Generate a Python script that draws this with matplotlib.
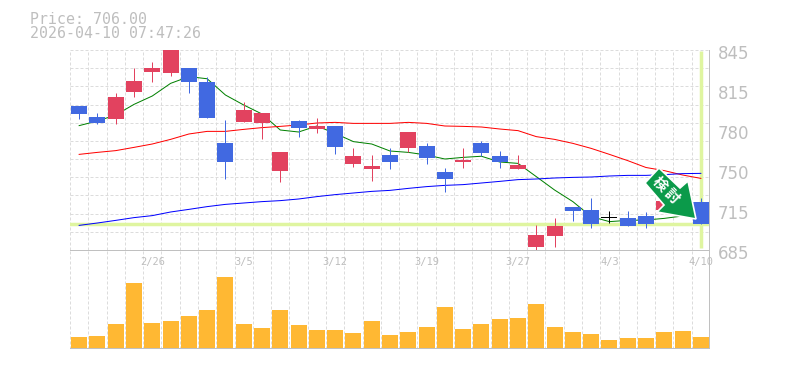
import matplotlib
matplotlib.use('Agg')
import matplotlib.pyplot as plt
from matplotlib.patches import Polygon
from matplotlib.ticker import FixedLocator, NullFormatter

# candles, oldest first
opens = [800.2, 791.4, 789.8, 811.4, 827.4, 826.6, 830.6, 819.4, 770.6, 787.4, 786.6, 748.2, 788.2, 781.8, 784.2, 753.8, 749.8, 761, 766.6, 768.2, 747.4, 755.4, 770.6, 760.2, 749.8, 687.4, 696.2, 719.4, 717, 710.3, 710.6, 712.2, 717, 725, 723.4]
closes = [793.8, 786.6, 807.4, 820.2, 830.6, 846, 819.4, 790.6, 755.4, 797, 794.6, 763.4, 782.6, 784.2, 767.4, 760.2, 752.2, 755.4, 779.4, 758.6, 741.8, 757, 762.6, 755.4, 753, 697, 704.2, 716.2, 705.8, 710.6, 704.2, 705.8, 724.2, 715.7, 706]
highs = [800.2, 794.6, 810.6, 830.6, 835.4, 846, 830.6, 823.4, 789, 803.4, 794.6, 763.4, 789, 790.6, 784.2, 766.6, 761, 766.6, 779.4, 770.6, 750.6, 766.6, 772.2, 764.2, 761, 705, 710.6, 719.4, 726.6, 716.2, 716.2, 715.4, 727.6, 727.6, 726.6]
lows = [789.8, 785.8, 785.8, 807.4, 819.4, 824.2, 810.6, 790.6, 741.8, 787.4, 773.8, 739.4, 775.4, 778.6, 761.8, 751.4, 740.2, 749.8, 763.4, 753.8, 731.4, 750.6, 759.9, 750.6, 749.8, 684.2, 687.4, 708.2, 702.6, 706.6, 704.2, 702.6, 714.4, 714.4, 706]

ma_short = [784.5, 788.2, 793, 801.5, 808.2, 818.3, 823.7, 822, 809, 801, 793.8, 781, 779.4, 784.2, 778.3, 771.7, 769.8, 764.2, 763.1, 761, 757.8, 759.1, 760, 755.4, 754.3, 743.7, 733, 723.7, 711.7, 707.7, 708.7, 709, 710.3, 712.2, 713]
ma_mid = [761.5, 763.1, 764.5, 767.1, 769.8, 773.5, 777.8, 779.9, 779.9, 781.5, 782.9, 783.9, 785, 786.6, 787.1, 786.3, 786.3, 786.3, 787.1, 786.3, 784.2, 783.9, 783.4, 781.8, 780.5, 775.7, 773.5, 770.3, 766.3, 761.5, 756.5, 751, 748.5, 745, 742.3]
ma_long = [704.7, 706.6, 708.7, 710.9, 712.5, 715.4, 717.5, 719.7, 721.5, 722.6, 723.7, 724.5, 725.8, 727.7, 729.3, 730.6, 731.9, 732.7, 734.3, 735.7, 736.7, 737.3, 738.6, 739.9, 741.3, 741.8, 742.6, 743.1, 743.4, 744.2, 744.7, 744.7, 745.3, 746.1, 746.3]

volumes = [10.7, 11.7, 23.7, 64.7, 24.7, 26.7, 31.7, 37.7, 70.7, 23.7, 19.7, 37.7, 22.7, 17.7, 17.7, 14.7, 26.7, 12.7, 15.7, 20.7, 40.7, 18.7, 23.7, 28.7, 29.7, 43.7, 20.7, 15.7, 13.7, 7.7, 9.7, 9.7, 15.7, 16.7, 10.7]

date_idx = [4, 9, 14, 19, 24, 29, 34]
date_labels = ['2/26', '3/5', '3/12', '3/19', '3/27', '4/3', '4/10']
price_ticks = [845, 813, 781, 749, 717, 685]
price_labels = ['845', '815', '780', '750', '715', '685']
last_price = 706

RED = '#E2425F'
BLUE = '#4169E1'
ORANGE = '#FFB833'
GRID = '#DCDCDC'
FRAME = '#C0C0C0'
TEXT = '#BEBEBE'
MARK = '#DFF5A0'
W, H = 785, 370
PX = 0.72  # one pixel in points at dpi 100


def px_axes(fig, left, top, right, bottom):
    return fig.add_axes([left / W, 1 - bottom / H, (right - left) / W, (bottom - top) / H])


def style_axes(ax):
    ax.set_xlim(-0.5, 34.5)
    for side in ax.spines:
        ax.spines[side].set_visible(False)
    ax.xaxis.set_major_locator(FixedLocator([i - 0.5 for i in range(36)]))
    ax.xaxis.set_major_formatter(NullFormatter())
    ax.tick_params(length=0)
    ax.grid(True, axis='x', color=GRID, linestyle=(0, (3, 2)), linewidth=PX)
    ax.set_axisbelow(True)


def draw_candles(ax):
    for i in range(len(opens)):
        color = RED if closes[i] > opens[i] else BLUE
        if abs(closes[i] - opens[i]) < 1:
            color = 'black'
        ax.vlines(i, lows[i], highs[i], color=color, linewidth=PX, zorder=4)
        height = max(abs(closes[i] - opens[i]), 0.8)
        ax.bar(i, height, 0.87, bottom=min(opens[i], closes[i]), color=color, zorder=4)


fig = plt.figure(figsize=(W / 100, H / 100), dpi=100, facecolor='white')
ax = px_axes(fig, 70, 50, 710, 250)
vol = px_axes(fig, 70, 250, 710, 349)

style_axes(ax)
ax.set_ylim(685, 845)
ax.yaxis.set_major_locator(FixedLocator([845 - i * 160 / 11 for i in range(12)]))
ax.yaxis.set_major_formatter(NullFormatter())
ax.grid(True, axis='y', color=GRID, linestyle=(0, (3, 2)), linewidth=PX)

xs = list(range(len(opens)))
ax.axhline(last_price, color=MARK, linewidth=2.5, zorder=2)
ax.plot([34, 34], [687, 844.5], color=MARK, linewidth=2.5, zorder=2, solid_capstyle='butt')
ax.plot(xs, ma_short, color='green', linewidth=PX, zorder=3)
ax.plot(xs, ma_mid, color='red', linewidth=PX, zorder=3)
ax.plot(xs, ma_long, color='blue', linewidth=PX, zorder=3)
draw_candles(ax)

for tick, label in zip(price_ticks, price_labels):
    ax.annotate(label, (1, tick), xycoords=('axes fraction', 'data'), xytext=(8, -4), textcoords='offset pixels',
                ha='left', va='center', fontsize=12, color=TEXT, annotation_clip=False)

style_axes(vol)
vol.set_ylim(-1, 98)
vol.yaxis.set_visible(False)
vol.bar(xs, volumes, 0.87, color=ORANGE, zorder=3)
for i, label in zip(date_idx, date_labels):
    vol.text(i, 86.5, label, ha='center', va='center', fontsize=7.5, color=TEXT, family='DejaVu Sans Mono', zorder=5)
vol.axhline(98, color=FRAME, linewidth=2 * PX, zorder=4)
vol.axhline(-1, color=FRAME, linewidth=2 * PX, zorder=4)
vol.axvline(34.5, color=FRAME, linewidth=2 * PX, zorder=4)
ax.axvline(34.5, color=FRAME, linewidth=2 * PX, zorder=4)

# signal arrow badge, placed in image pixels
arrow = [(659, 168), (680, 188), (688, 181), (696, 219), (657, 212), (664, 205), (645, 183)]
fig.add_artist(Polygon([(x / W, 1 - y / H) for x, y in arrow], closed=True, transform=fig.transFigure,
                       facecolor='#0B9A4A', edgecolor='white', linewidth=1.2, zorder=10))
for x, y, ch in [(660, 184, '検'), (672, 196, '討')]:
    fig.text(x / W, 1 - y / H, ch, rotation=-45, rotation_mode='anchor', ha='center', va='center', fontsize=10.5,
             fontweight='bold', color='white', family=['Noto Sans CJK JP', 'DejaVu Sans'], zorder=11)

fig.text(30 / W, 1 - 19 / H, 'Price: 706.00', fontsize=10.7, color=TEXT, family='DejaVu Sans Mono', va='center')
fig.text(30 / W, 1 - 33 / H, '2026-04-10 07:47:26', fontsize=10.7, color=TEXT, family='DejaVu Sans Mono', va='center')

fig.savefig('out.png', dpi=100)
